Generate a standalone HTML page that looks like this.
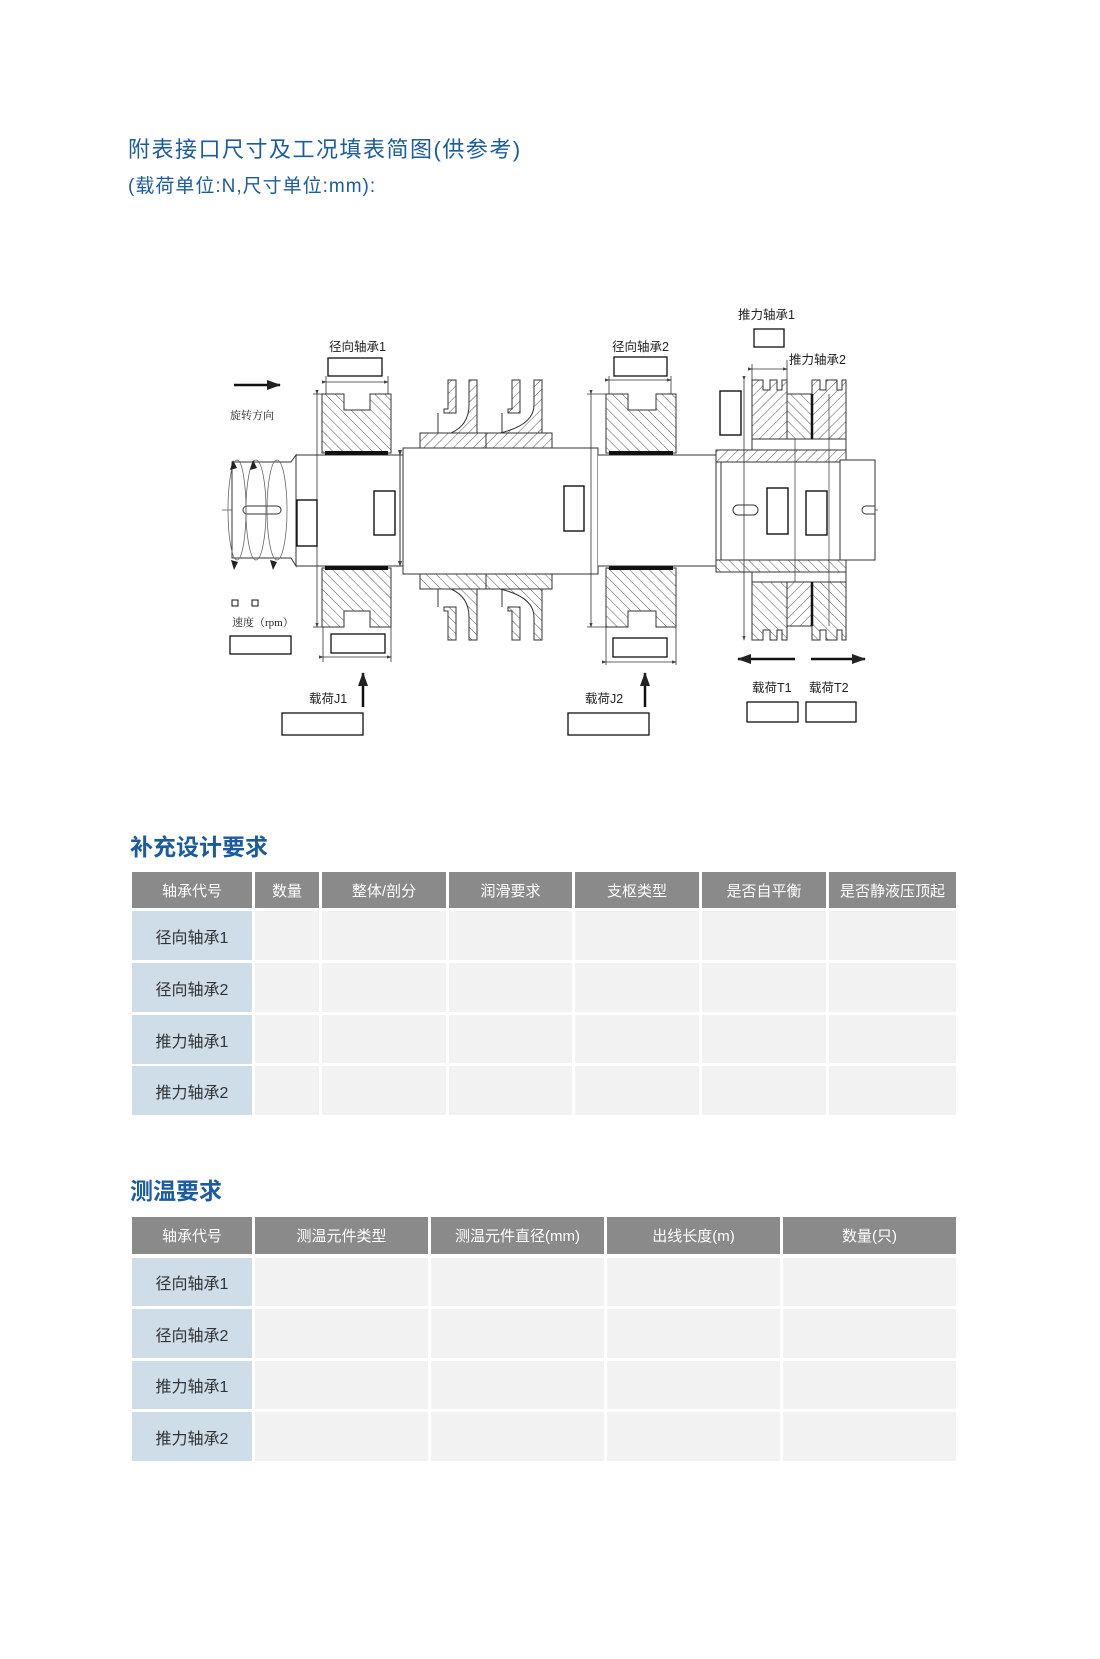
<!DOCTYPE html>
<html><head><meta charset="utf-8"><style>
body{margin:0;background:#fff;}
#p{position:relative;width:1100px;height:1659px;overflow:hidden;font-family:"Liberation Sans","Noto Sans CJK SC",sans-serif;}
.t{position:absolute;color:#1b5b9f;white-space:nowrap;}
.c{position:absolute;display:flex;align-items:center;justify-content:center;font-size:16px;color:#333;}
.h{background:#8a8a8a;color:#fff;font-size:15px;}
.f{background:#cfdde9;}
.e{background:#f2f2f2;}
</style></head><body><div id="p">
<div class="t" style="left:128px;top:132px;font-size:22px;letter-spacing:1.5px;">附表接口尺寸及工况填表简图(供参考)</div>
<div class="t" style="left:128px;top:171px;font-size:19px;letter-spacing:1px;">(载荷单位:N,尺寸单位:mm):</div>

<svg style="position:absolute;left:0;top:0" width="1100" height="760" viewBox="0 0 1100 760">
<defs>
<pattern id="ha" width="7" height="7" patternUnits="userSpaceOnUse" patternTransform="rotate(45)"><line x1="0" y1="0" x2="0" y2="7" stroke="#444" stroke-width="0.9"/></pattern>
<pattern id="hb" width="7" height="7" patternUnits="userSpaceOnUse" patternTransform="rotate(-45)"><line x1="0" y1="0" x2="0" y2="7" stroke="#444" stroke-width="0.9"/></pattern>
<marker id="ar" markerUnits="userSpaceOnUse" markerWidth="14" markerHeight="12" refX="13" refY="6" orient="auto"><path d="M0,1 L14,6 L0,11z" fill="#222"/></marker>
<marker id="sm" markerWidth="6" markerHeight="6" refX="5" refY="3" orient="auto"><path d="M0,1 L6,3 L0,5z" fill="#444"/></marker>
</defs>
<g stroke="#333" stroke-width="1" fill="none">
<line x1="222" y1="510" x2="882" y2="510" stroke="#555" stroke-width="0.8" stroke-dasharray="18,4,3,4"/>
<path d="M232,462 L291,462 L296,455 L296,566 L291,558 L232,558 Z" fill="#fff"/>
<rect x="243" y="506" width="38" height="8" rx="4" fill="#fff"/>
<g stroke="#666" stroke-width="0.8">
<ellipse cx="237" cy="510" rx="9" ry="50"/>
<ellipse cx="256" cy="510" rx="10" ry="50"/>
<ellipse cx="277" cy="510" rx="10" ry="50"/>
</g>
<path d="M230,470 l3,-10 l4,8z M250,470 l3,-10 l4,8z M231,560 l3,10 l4,-8z M270,560 l3,10 l4,-8z" fill="#222" stroke="none"/>
<rect x="296" y="455" width="107" height="111" fill="#fff"/>
<rect x="403" y="448" width="195" height="126" fill="#fff"/>
<line x1="400" y1="455" x2="400" y2="566" marker-start="url(#sm)" marker-end="url(#sm)"/>
<path d="M322,394 L344,394 L344,410 L370,410 L370,394 L391,394 L391,453 L322,453 Z" fill="url(#hb)"/>
<rect x="325" y="451" width="63" height="4" fill="#111" stroke="none"/>
<path d="M322,627 L344,627 L344,611 L370,611 L370,627 L391,627 L391,568 L322,568 Z" fill="url(#hb)"/>
<rect x="325" y="566" width="63" height="4" fill="#111" stroke="none"/>
<line x1="317" y1="394" x2="317" y2="627" marker-start="url(#sm)" marker-end="url(#sm)" stroke-width="0.8"/>
<line x1="313" y1="394" x2="322" y2="394" stroke-width="0.8"/><line x1="313" y1="627" x2="322" y2="627" stroke-width="0.8"/>
<line x1="326" y1="382" x2="388" y2="382" marker-start="url(#sm)" marker-end="url(#sm)" stroke-width="0.8"/>
<line x1="326" y1="376" x2="326" y2="394" stroke-width="0.8"/><line x1="388" y1="376" x2="388" y2="394" stroke-width="0.8"/>
<line x1="323" y1="657" x2="391" y2="657" marker-start="url(#sm)" marker-end="url(#sm)" stroke-width="0.8"/>
<line x1="323" y1="627" x2="323" y2="662" stroke-width="0.8"/><line x1="391" y1="627" x2="391" y2="662" stroke-width="0.8"/>
<rect x="420" y="433" width="132" height="15" fill="url(#ha)"/>
<rect x="420" y="574" width="132" height="15" fill="url(#hb)"/>
<line x1="486" y1="433" x2="486" y2="448"/><line x1="486" y1="574" x2="486" y2="589"/>
<path d="M448,380 L456,380 L456,413 L444,413 L444,409 L448,409 Z" fill="url(#ha)"/>
<path d="M469,380 L477,380 L477,433 L451,433 Q469,425 469,405 Z" fill="url(#ha)"/>
<path d="M512,380 L520,380 L520,413 L508,413 L508,409 L512,409 Z" fill="url(#ha)"/>
<path d="M534,380 L542,380 L542,433 L500,433 Q534,425 534,405 Z" fill="url(#ha)"/>
<line x1="438" y1="413" x2="438" y2="433"/><line x1="502" y1="413" x2="502" y2="433"/>
<path d="M448,640 L456,640 L456,607 L444,607 L444,611 L448,611 Z" fill="url(#hb)"/>
<path d="M469,640 L477,640 L477,589 L451,589 Q469,597 469,617 Z" fill="url(#hb)"/>
<path d="M512,640 L520,640 L520,607 L508,607 L508,611 L512,611 Z" fill="url(#hb)"/>
<path d="M534,640 L542,640 L542,589 L500,589 Q534,597 534,617 Z" fill="url(#hb)"/>
<line x1="438" y1="589" x2="438" y2="607"/><line x1="502" y1="589" x2="502" y2="607"/>
<rect x="297" y="500" width="20" height="46" fill="#fff" stroke="#111" stroke-width="1.4"/>
<rect x="374" y="491" width="21" height="44" fill="#fff" stroke="#111" stroke-width="1.4"/>
<rect x="564" y="486" width="20" height="45" fill="#fff" stroke="#111" stroke-width="1.4"/>
<path d="M598,448 L598,455 L716,455 L716,566 L598,566 L598,574" fill="#fff"/>
<path d="M606,394 L628,394 L628,410 L656,410 L656,394 L676,394 L676,453 L606,453 Z" fill="url(#hb)"/>
<rect x="609" y="451" width="64" height="4" fill="#111" stroke="none"/>
<path d="M606,627 L628,627 L628,611 L656,611 L656,627 L676,627 L676,568 L606,568 Z" fill="url(#hb)"/>
<rect x="609" y="566" width="64" height="4" fill="#111" stroke="none"/>
<line x1="591" y1="394" x2="591" y2="627" marker-start="url(#sm)" marker-end="url(#sm)" stroke-width="0.8"/>
<line x1="587" y1="394" x2="606" y2="394" stroke-width="0.8"/><line x1="587" y1="627" x2="606" y2="627" stroke-width="0.8"/>
<line x1="609" y1="380" x2="671" y2="380" marker-start="url(#sm)" marker-end="url(#sm)" stroke-width="0.8"/>
<line x1="609" y1="376" x2="609" y2="394" stroke-width="0.8"/><line x1="671" y1="376" x2="671" y2="394" stroke-width="0.8"/>
<line x1="606" y1="662" x2="676" y2="662" marker-start="url(#sm)" marker-end="url(#sm)" stroke-width="0.8"/>
<line x1="606" y1="627" x2="606" y2="665" stroke-width="0.8"/><line x1="676" y1="627" x2="676" y2="665" stroke-width="0.8"/>
<rect x="716" y="450" width="130" height="12" fill="url(#ha)"/>
<rect x="716" y="560" width="130" height="12" fill="url(#hb)"/>
<rect x="716" y="462" width="130" height="98" fill="#fff"/>
<line x1="721" y1="462" x2="721" y2="560"/>
<rect x="840" y="460" width="35" height="100" fill="#fff"/>
<path d="M875,506 L866,506 A4,4 0 0 0 866,514 L875,514"/>
<rect x="733" y="505" width="25" height="10" rx="5" fill="#fff"/>
<path d="M752,380 L763,380 L763,390 L770,390 L770,380 L777,380 L777,390 L782,390 L782,380 L787,380 L787,439 L752,439 Z" fill="url(#ha)"/>
<path d="M787,394 L812,394 L812,439 L787,439 Z" fill="url(#hb)"/>
<path d="M812,380 L820,380 L820,390 L826,390 L826,380 L837,380 L837,390 L842,390 L842,380 L846,380 L846,439 L812,439 Z" fill="url(#ha)"/>
<line x1="812" y1="394" x2="812" y2="439" stroke="#111" stroke-width="2.5"/>
<path d="M752,640 L763,640 L763,630 L770,630 L770,640 L777,640 L777,630 L782,630 L782,640 L787,640 L787,582 L752,582 Z" fill="url(#hb)"/>
<path d="M787,626 L812,626 L812,582 L787,582 Z" fill="url(#ha)"/>
<path d="M812,640 L820,640 L820,630 L826,630 L826,640 L837,640 L837,630 L842,630 L842,640 L846,640 L846,582 L812,582 Z" fill="url(#hb)"/>
<line x1="812" y1="582" x2="812" y2="626" stroke="#111" stroke-width="2.5"/>
<line x1="752" y1="439" x2="752" y2="450"/><line x1="846" y1="439" x2="846" y2="450"/>
<line x1="752" y1="572" x2="752" y2="582"/><line x1="846" y1="572" x2="846" y2="582"/>
<line x1="795" y1="439" x2="795" y2="582" stroke-width="0.7"/>
<line x1="829" y1="394" x2="829" y2="626" stroke-width="0.7"/>
<line x1="744" y1="380" x2="744" y2="640" stroke-width="0.8" marker-start="url(#sm)" marker-end="url(#sm)"/>
<line x1="752" y1="369" x2="787" y2="369" stroke-width="0.8" marker-start="url(#sm)" marker-end="url(#sm)"/>
<line x1="752" y1="364" x2="752" y2="380" stroke-width="0.8"/><line x1="787" y1="360" x2="787" y2="394" stroke-width="0.8"/>
<rect x="767" y="488" width="21" height="46" fill="#fff" stroke="#111" stroke-width="1.4"/>
<rect x="806" y="491" width="21" height="44" fill="#fff" stroke="#111" stroke-width="1.4"/>
<rect x="720" y="391" width="21" height="44" fill="#fff" stroke="#111" stroke-width="1.4"/>
</g>
<g fill="#fff" stroke="#111" stroke-width="1.3">
<rect x="328" y="358" width="54" height="18"/>
<rect x="331" y="634" width="54" height="19"/>
<rect x="230" y="636" width="61" height="18"/>
<rect x="282" y="713" width="81" height="22"/>
<rect x="568" y="713" width="81" height="22"/>
<rect x="614" y="357" width="53" height="19"/>
<rect x="613" y="638" width="54" height="19"/>
<rect x="754" y="329" width="30" height="18"/>
<rect x="747" y="702" width="51" height="20"/>
<rect x="806" y="702" width="50" height="20"/>
<rect x="232" y="600" width="6" height="6" stroke-width="1"/>
<rect x="252" y="600" width="6" height="6" stroke-width="1"/>
</g>
<g stroke="#111" stroke-width="2.5" fill="none">
<line x1="234" y1="385" x2="280" y2="385" marker-end="url(#ar)"/>
<line x1="363" y1="707" x2="363" y2="673" marker-end="url(#ar)"/>
<line x1="645" y1="707" x2="645" y2="673" marker-end="url(#ar)"/>
<line x1="795" y1="659" x2="738" y2="659" marker-end="url(#ar)"/>
<line x1="811" y1="659" x2="865" y2="659" marker-end="url(#ar)"/>
</g>
<g font-family="Liberation Sans,Noto Sans CJK SC,sans-serif" font-size="12.5" fill="#222">
<text x="329" y="351">径向轴承1</text>
<text x="612" y="351">径向轴承2</text>
<text x="738" y="319">推力轴承1</text>
<text x="789" y="364">推力轴承2</text>
<text x="309" y="703">载荷J1</text>
<text x="585" y="703">载荷J2</text>
<text x="752" y="692">载荷T1</text>
<text x="809" y="692">载荷T2</text>
</g>
<g font-family="Liberation Serif,Noto Serif CJK SC,serif" font-size="11" fill="#222">
<text x="230" y="419">旋转方向</text>
<text x="232" y="626">速度（rpm）</text>
</g>
</svg>

<div class="t" style="left:130px;top:828px;font-size:23px;font-weight:bold;">补充设计要求</div>
<div class="c h" style="left:132px;top:872px;width:120px;height:36px;">轴承代号</div>
<div class="c h" style="left:255px;top:872px;width:64px;height:36px;">数量</div>
<div class="c h" style="left:322px;top:872px;width:124px;height:36px;">整体/剖分</div>
<div class="c h" style="left:449px;top:872px;width:123px;height:36px;">润滑要求</div>
<div class="c h" style="left:575px;top:872px;width:124px;height:36px;">支枢类型</div>
<div class="c h" style="left:702px;top:872px;width:124px;height:36px;">是否自平衡</div>
<div class="c h" style="left:829px;top:872px;width:127px;height:36px;">是否静液压顶起</div>
<div class="c f" style="left:132px;top:911px;width:120px;height:49px;">径向轴承1</div>
<div class="c f" style="left:132px;top:963px;width:120px;height:49px;">径向轴承2</div>
<div class="c f" style="left:132px;top:1015px;width:120px;height:49px;">推力轴承1</div>
<div class="c f" style="left:132px;top:1066px;width:120px;height:49px;">推力轴承2</div>
<div style="position:absolute;left:255px;top:911px;width:701px;height:204px;background:
linear-gradient(#fff,#fff) 0 49px/100% 3px no-repeat,
linear-gradient(#fff,#fff) 0 101px/100% 3px no-repeat,
linear-gradient(#fff,#fff) 0 152px/100% 3px no-repeat,
linear-gradient(90deg,transparent 64px,#fff 64px,#fff 67px,transparent 67px,transparent 191px,#fff 191px,#fff 194px,transparent 194px,transparent 317px,#fff 317px,#fff 320px,transparent 320px,transparent 444px,#fff 444px,#fff 447px,transparent 447px,transparent 571px,#fff 571px,#fff 574px,transparent 574px),#f2f2f2;"></div>

<div class="t" style="left:130px;top:1172px;font-size:23px;font-weight:bold;">测温要求</div>
<div class="c h" style="left:132px;top:1217px;width:120px;height:37px;">轴承代号</div>
<div class="c h" style="left:255px;top:1217px;width:173px;height:37px;">测温元件类型</div>
<div class="c h" style="left:431px;top:1217px;width:173px;height:37px;">测温元件直径(mm)</div>
<div class="c h" style="left:607px;top:1217px;width:173px;height:37px;">出线长度(m)</div>
<div class="c h" style="left:783px;top:1217px;width:173px;height:37px;">数量(只)</div>
<div class="c f" style="left:132px;top:1258px;width:120px;height:48px;">径向轴承1</div>
<div class="c f" style="left:132px;top:1309px;width:120px;height:49px;">径向轴承2</div>
<div class="c f" style="left:132px;top:1361px;width:120px;height:48px;">推力轴承1</div>
<div class="c f" style="left:132px;top:1412px;width:120px;height:49px;">推力轴承2</div>
<div style="position:absolute;left:255px;top:1258px;width:701px;height:203px;background:
linear-gradient(#fff,#fff) 0 48px/100% 3px no-repeat,
linear-gradient(#fff,#fff) 0 100px/100% 3px no-repeat,
linear-gradient(#fff,#fff) 0 151px/100% 3px no-repeat,
linear-gradient(90deg,transparent 173px,#fff 173px,#fff 176px,transparent 176px,transparent 349px,#fff 349px,#fff 352px,transparent 352px,transparent 525px,#fff 525px,#fff 528px,transparent 528px),#f2f2f2;"></div>
</div></body></html>
